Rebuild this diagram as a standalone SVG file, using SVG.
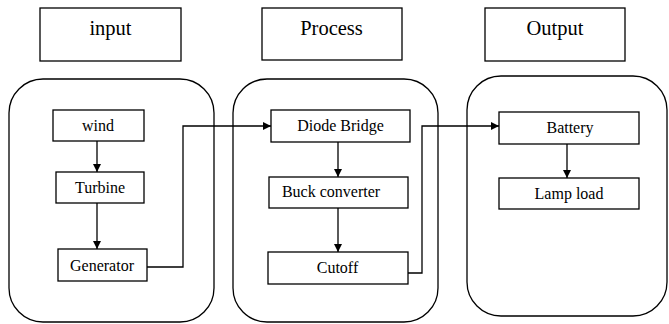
<svg xmlns="http://www.w3.org/2000/svg" width="669" height="324" viewBox="0 0 669 324">
<style>
.box{fill:#fff;stroke:#000;stroke-width:1.3}
.cont{fill:none;stroke:#000;stroke-width:1.3}
.t{font-family:"Liberation Serif","Times New Roman",serif;font-size:16px;text-anchor:middle;fill:#000}
.h{font-family:"Liberation Serif","Times New Roman",serif;font-size:20.5px;text-anchor:middle;fill:#000}
.c{fill:none;stroke:#000;stroke-width:1.3}
</style>
<defs>
<marker id="ah" markerWidth="8" markerHeight="8" refX="8" refY="4" orient="auto" markerUnits="userSpaceOnUse">
<path d="M0,0 L8,4 L0,8 Z" fill="#000"/>
</marker>
</defs>
<rect width="669" height="324" fill="#fff"/>
<g id="input-title"><rect class="box" x="40" y="8" width="141" height="53"/><text class="h" x="110.5" y="35">input</text></g>
<g id="process-title"><rect class="box" x="262" y="8" width="140" height="52"/><text class="h" x="331.5" y="35">Process</text></g>
<g id="output-title"><rect class="box" x="485" y="8" width="140" height="53"/><text class="h" x="555" y="35">Output</text></g>
<g id="input-group"><rect class="cont" x="9" y="79" width="205" height="243" rx="34" ry="34"/></g>
<g id="process-group"><rect class="cont" x="233" y="79" width="205" height="243" rx="34" ry="34"/></g>
<g id="output-group"><rect class="cont" x="467" y="76" width="200" height="240" rx="34" ry="34"/></g>
<g id="wind"><rect class="box" x="53" y="110" width="91" height="31"/><text class="t" x="98" y="131">wind</text></g>
<g id="turbine"><rect class="box" x="56" y="172" width="88" height="31"/><text class="t" x="100" y="193">Turbine</text></g>
<g id="generator"><rect class="box" x="58" y="249" width="89" height="32"/><text class="t" x="102" y="271">Generator</text></g>
<g id="diode-bridge"><rect class="box" x="271" y="110" width="139" height="32"/><text class="t" x="340.5" y="131">Diode Bridge</text></g>
<g id="buck-converter"><rect class="box" x="269" y="177" width="139" height="31"/><text class="t" x="331" y="197">Buck converter</text></g>
<g id="cutoff"><rect class="box" x="268" y="252" width="140" height="32"/><text class="t" x="337.5" y="273">Cutoff</text></g>
<g id="battery"><rect class="box" x="499" y="112" width="140" height="32"/><text class="t" x="570" y="133">Battery</text></g>
<g id="lamp-load"><rect class="box" x="499" y="178" width="140" height="31"/><text class="t" x="569" y="199">Lamp load</text></g>
<g id="connectors">
<path class="c" d="M97,141 L97,172" marker-end="url(#ah)"/>
<path class="c" d="M97,203 L97,249" marker-end="url(#ah)"/>
<path class="c" d="M147,267 L183,267 L183,126 L271,126" marker-end="url(#ah)"/>
<path class="c" d="M338,142 L338,177" marker-end="url(#ah)"/>
<path class="c" d="M338,208 L338,252" marker-end="url(#ah)"/>
<path class="c" d="M408,273 L422,273 L422,126 L499,126" marker-end="url(#ah)"/>
<path class="c" d="M567,144 L567,178" marker-end="url(#ah)"/>
</g>
</svg>
